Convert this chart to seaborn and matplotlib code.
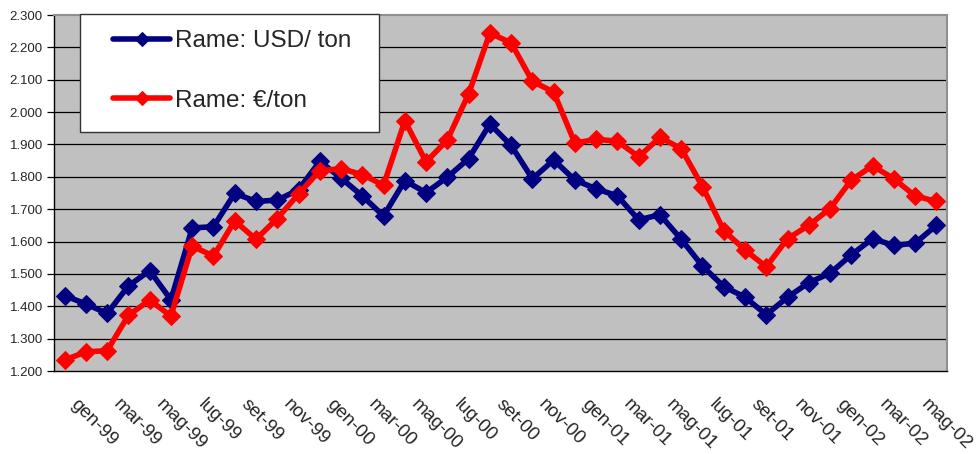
import matplotlib
matplotlib.use("Agg")
import matplotlib.pyplot as plt
import matplotlib.transforms as mtrans
from matplotlib.patches import Rectangle
import seaborn as sns
import numpy as np

# monthly data gen-99 .. giu-02
months = ["gen", "feb", "mar", "apr", "mag", "giu", "lug", "ago", "set", "ott", "nov", "dic"]
years = ["99", "00", "01", "02"]
labels = [f"{m}-{y}" for y in years for m in months][:42]

usd = [1433, 1407, 1378, 1463, 1510, 1420, 1642, 1646, 1749, 1724, 1728, 1760,
       1848, 1796, 1741, 1679, 1788, 1751, 1799, 1856, 1963, 1897, 1794, 1852,
       1790, 1763, 1741, 1667, 1683, 1607, 1524, 1461, 1428, 1374, 1428, 1473,
       1502, 1559, 1609, 1588, 1595, 1650]
eur = [1234, 1259, 1263, 1372, 1419, 1370, 1586, 1555, 1664, 1607, 1671, 1747,
       1819, 1825, 1807, 1774, 1973, 1846, 1914, 2056, 2244, 2214, 2095, 2062,
       1904, 1916, 1910, 1862, 1922, 1887, 1770, 1634, 1574, 1522, 1609, 1650,
       1702, 1790, 1834, 1794, 1741, 1724]

sns.set_style("white")
plt.rcParams['font.family'] = ['Liberation Sans', 'DejaVu Sans']

W, H = 977, 454
fig = plt.figure(figsize=(W/100, H/100), dpi=100)
ax = fig.add_axes([54/W, 1-371/H, (947-54)/W, (371-15)/H])
ax.set_facecolor("#C0C0C0")

x = np.arange(len(usd))
sns.lineplot(x=x, y=usd, ax=ax, color="#000080", linewidth=4, marker="D",
             markersize=9.5, markeredgecolor="#000080", label="Rame: USD/ ton")
sns.lineplot(x=x, y=eur, ax=ax, color="#FF0000", linewidth=4, marker="D",
             markersize=9.5, markeredgecolor="#FF0000", label="Rame: €/ton")

ax.set_xlim(-0.5, len(usd) - 0.5)
ax.set_ylim(1200, 2300)
yt = np.arange(1200, 2301, 100)
ax.set_yticks(yt)
ax.set_yticklabels([f"{v:,}".replace(",", ".") for v in yt], fontsize=9.5)
for v in yt[1:-1]:
    ax.axhline(v, color="black", linewidth=0.9, zorder=0.5)

# ticks between categories, labels every other month
ax.set_xticks(np.arange(-0.5, len(usd), 2))
ax.set_xticklabels([])
ax.set_xticks(np.arange(0, len(usd), 2), minor=True)
ax.set_xticklabels(labels[::2], minor=True, rotation=-45, ha="left", va="top",
                   fontsize=13.5)
ax.tick_params(axis="x", which="minor", length=0, pad=18)
ax.tick_params(axis="both", which="major", length=5, width=0.9, color="black",
               direction="out")
ax.tick_params(axis="y", left=True, pad=3)
shift = mtrans.ScaledTranslation(3/100, 0, fig.dpi_scale_trans)
for t in ax.get_xticklabels(minor=True):
    t.set_transform(t.get_transform() + shift)
ax.set_xlabel("")
ax.set_ylabel("")

for s in ["left", "bottom"]:
    ax.spines[s].set_color("black")
    ax.spines[s].set_linewidth(1)
for s in ["top", "right"]:
    ax.spines[s].set_color("#909090")
    ax.spines[s].set_linewidth(1.5)

# legend box drawn separately, legend entries placed inside it
box = Rectangle((80/W, 1-132/H), (379-80)/W, (132-14)/H, transform=fig.transFigure,
                facecolor="white", edgecolor="#333333", linewidth=1, zorder=9)
fig.patches.append(box)

ax.legend_.remove()
h, l = ax.get_legend_handles_labels()
leg = fig.legend(h, l, loc="upper left", bbox_to_anchor=(113/W, 1-30/H),
                 frameon=False, fontsize=17.5, handlelength=2.35,
                 handletextpad=0.2, labelspacing=1.55, borderpad=0,
                 borderaxespad=0, numpoints=1, markerscale=0.8)
leg.set_zorder(10)

fig.savefig("out.png", dpi=100)
